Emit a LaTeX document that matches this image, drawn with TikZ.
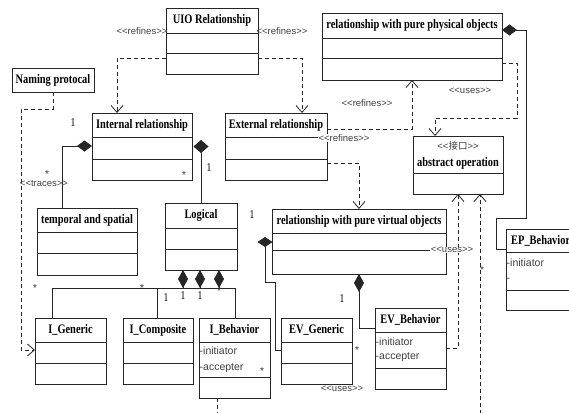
\documentclass[tikz,border=0pt]{standalone}
\usepackage{fontspec}
\setmainfont{Liberation Serif}
\newfontfamily\clsfont[FakeStretch=0.8]{Liberation Serif}
\newfontfamily\lblfont{Liberation Sans}
\newfontfamily\cjkfont{Noto Sans CJK SC}
\usetikzlibrary{arrows.meta}
\newcommand\ster[1]{<{}<#1>{}>}
\newcommand\umlcls[8]{%
  \node[clsbox, minimum width={(#4)-(#2)}, minimum height={(#5)-(#3)}] (#1) at ({((#2)+(#4))/2},{((#3)+(#5))/2}) {};
  \draw[boxline] (#2,#6) -- (#4,#6);
  \draw[boxline] (#2,#7) -- (#4,#7);
  \node[clstitle] (#1-title) at ({((#2)+(#4))/2},{((#3)+(#6))/2}) {#8};
}
\tikzset{
  clsbox/.style={draw=black!85, line width=0.9pt, inner sep=0pt, outer sep=0pt, fill=white},
  boxline/.style={draw=black!85, line width=0.9pt},
  clstitle/.style={font=\clsfont\bfseries\fontsize{13}{13}\selectfont, inner sep=0pt, text=black},
  lbl/.style={font=\lblfont\fontsize{9.5}{9.5}\selectfont, inner sep=0.5pt, text=black!75},
  attr/.style={font=\lblfont\fontsize{10.5}{10.5}\selectfont, inner sep=0pt, anchor=west, text=black!75},
  one/.style={font=\clsfont\fontsize{12}{12}\selectfont, inner sep=0pt},
  star/.style={font=\lblfont\fontsize{10}{10}\selectfont, inner sep=0pt, text=black!80},
  conn/.style={draw=black!85, line width=0.8pt},
  dep/.style={conn, dash pattern=on 4pt off 3pt, -{Straight Barb[length=7pt,width=12pt]}},
  depline/.style={conn, dash pattern=on 4pt off 3pt},
  hdia/.style={conn, {Diamond[length=15pt,width=11pt]}-},
  vdia/.style={conn, {Diamond[length=18pt,width=10pt]}-},
}
\begin{document}
\begin{tikzpicture}[x=1pt,y=-1pt]
\path[use as bounding box] (0,0) rectangle (569,412);
\clip (0,0) rectangle (569,412);

% classes
\umlcls{uio}{166}{8}{258}{74}{33}{53}{UIO Relationship}
\node[clsbox, minimum width=82, minimum height=24] (naming) at (53,80) {};
\node[clstitle] (naming-title) at (53,80) {Naming protocal};
\umlcls{intr}{92}{113}{192}{180}{137}{159}{Internal relationship}
\umlcls{extr}{225}{113}{327}{180}{137}{159}{External relationship}
\umlcls{phys}{322}{13}{502}{80}{38}{58}{relationship with pure physical objects}
\umlcls{temp}{37}{208}{137}{275}{232}{253}{temporal and spatial}
\umlcls{logical}{165}{203}{237}{270}{228}{249}{Logical}
\umlcls{virt}{272}{209}{446}{274}{233}{250}{relationship with pure virtual objects}
\umlcls{igen}{35}{318}{106}{384}{342}{363}{I\_Generic}
\umlcls{icomp}{123}{318}{193}{384}{342}{363}{I\_Composite}
\umlcls{ibeh}{199}{318}{270}{398}{342}{377}{I\_Behavior}
\umlcls{evgen}{281}{318}{352}{384}{342}{363}{EV\_Generic}
\umlcls{evbeh}{375}{308}{446}{389}{332}{368}{EV\_Behavior}

% abstract operation
\node[clsbox, minimum width=90, minimum height=58] (absop) at (458,165) {};
\draw[boxline] (413,173) -- (503,173);
\node[lbl] (absop-st) at (458,146) {\ster{{\cjkfont 接口}}};
\node[clstitle] (absop-title) at (458,163) {abstract operation};

% EP_Behavior (cut by the right edge)
\node[clsbox, minimum width=84, minimum height=81] (epbeh) at (548,269.5) {};
\draw[boxline] (506,252) -- (590,252);
\draw[boxline] (506,290) -- (590,290);
\node[clstitle, anchor=west] (epbeh-title) at (511,241) {EP\_Behavior};

% attributes
\node[attr] (ibeh-a1) at (199.5,351) {-initiator};
\node[attr] (ibeh-a2) at (199.5,368) {-accepter};
\node[attr] (evbeh-a1) at (375.5,342) {-initiator};
\node[attr] (evbeh-a2) at (375.5,357) {-accepter};
\node[attr] (epbeh-a1) at (506.5,263) {-initiator};
\node[attr] (epbeh-a2) at (506.5,280) {-};

% dependencies
\draw[dep] (uio.west |- 0,58) -| (intr.north -| 117,0);
\draw[dep] (uio.east |- 0,58) -| (extr.north -| 302,0);
\draw[dep] (naming.south) -- (53,109) -- (21,109) -- (21,350) -- (igen.west |- 0,350);
\draw[dep] (phys.east |- 0,63) -- (517,63) -- (517,118) -| (absop.north -| 435,0);
\draw[dep] (extr.east |- 0,129) -| (phys.south -| 412,0);
\draw[dep] (extr.east |- 0,163) -| (virt.north -| 359,0);
\draw[dep] (evbeh.east |- 0,348) -| (absop.south -| 458,0);
\coordinate (free1) at (480,414);
\draw[dep] (free1) -- (absop.south -| 480,0);
\coordinate (free2) at (217,414);
\draw[depline] (ibeh.south -| 217,0) -- (free2);

% compositions
\draw[hdia] (intr.west |- 0,146) -| (temp.north -| 62,0);
\coordinate (dia1) at (201,140);
\draw[conn, {Diamond[length=13pt,width=15pt]}-] (dia1) -- (logical.north -| 201,0);
\draw[vdia] (logical.south -| 183,0) -- (183,288);
\draw[vdia] (logical.south -| 200,0) -- (200,288);
\draw[vdia] (logical.south -| 219,0) -- (219,288);
\draw[conn] (igen.north -| 52,0) -- (52,288) -- (235,288) -- (ibeh.north -| 235,0);
\draw[conn] (157,288) -- (icomp.north -| 157,0);
\coordinate (dia2) at (265,237);
\draw[conn, {Diamond[length=10pt,width=15pt]}-] (dia2) -- (265,282) -- (275,282) |- (evgen.west |- 0,350);
\draw[vdia] (virt.south -| 359,0) |- (evbeh.west |- 0,328);
\draw[hdia] (phys.east |- 0,30) -- (526,30) -- (526,218) -- (496,218) |- (epbeh.west |- 0,249);

% stereotype labels
\node[lbl] (l1) at (142,31) {\ster{refines}};
\node[lbl] (l2) at (282,31) {\ster{refines}};
\node[lbl] (l3) at (44,183) {\ster{traces}};
\node[lbl] (l4) at (367,103) {\ster{refines}};
\node[lbl] (l5) at (470,91) {\ster{uses}};
\node[lbl, fill=white] (l6) at (344,138) {\ster{refines}};
\node[lbl, fill=white] (l7) at (452,250) {\ster{uses}};
\node[lbl] (l8) at (342,389) {\ster{uses}};

% multiplicities
\node[one] (m1) at (73,123) {1};
\node[star] (m2) at (184,175) {*};
\node[one] (m3) at (209,168) {1};
\node[star] (m4) at (47,174) {*};
\node[star] (m5) at (35,288) {*};
\node[star] (m6) at (142,288) {*};
\node[one] (m7) at (166,298) {1};
\node[one] (m8) at (183,296) {1};
\node[one] (m9) at (200,296) {1};
\node[star] (m10) at (219,291) {*};
\node[one] (m11) at (252,215) {1};
\node[one] (m12) at (342,299) {1};
\node[star] (m13) at (357,350) {*};
\node[star] (m14) at (482,270) {*};
\node[star] (m15) at (262,371) {*};
\end{tikzpicture}
\end{document}
